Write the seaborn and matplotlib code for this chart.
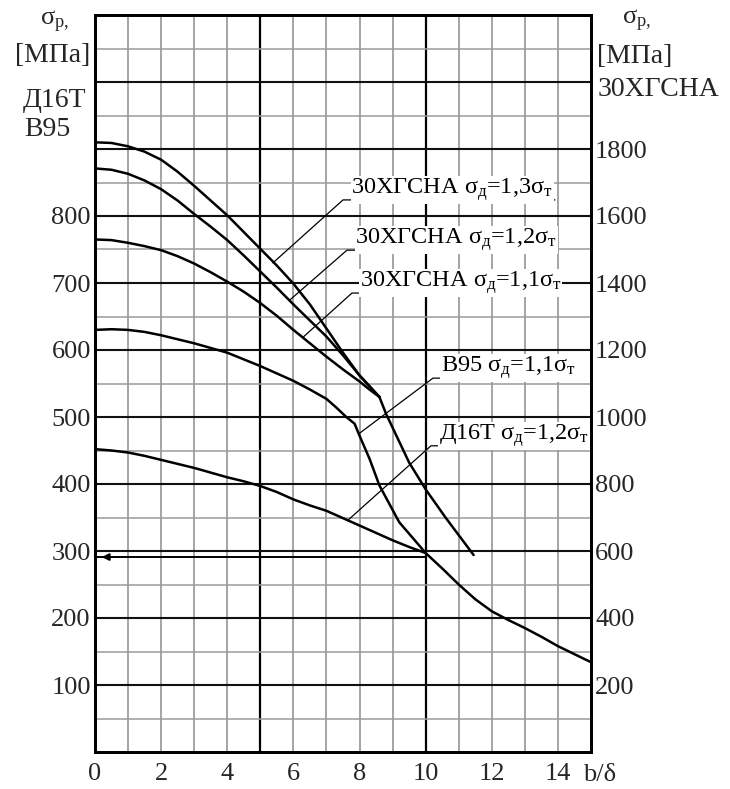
import matplotlib
matplotlib.use('Agg')
import matplotlib.pyplot as plt
import seaborn as sns

# b/delta values and sigma_p readings (MPa)
# 30ХГСНА curves are in right-axis units, Д16Т / В95 in left-axis units
x_hgsna = [0, 0.5, 1, 1.5, 2, 2.5, 3, 3.5, 4, 4.5, 5, 5.5, 6, 6.5, 7, 7.5, 8, 8.3, 8.6]
hgsna_13 = [1820, 1818, 1808, 1792, 1768, 1732, 1690, 1646, 1602, 1552, 1502, 1452, 1398,
            1336, 1264, 1192, 1124, 1092, 1060]
hgsna_12 = [1742, 1738, 1726, 1706, 1680, 1646, 1606, 1568, 1528, 1482, 1434, 1386, 1336,
            1288, 1240, 1184, 1124, 1092, 1060]
hgsna_11 = [1530, 1528, 1520, 1510, 1498, 1480, 1458, 1432, 1404, 1374, 1340, 1302, 1260,
            1220, 1180, 1142, 1106, 1082, 1060]
x_hgsna_tail = [8.6, 8.8, 9.5, 10.0, 10.6, 11.45]
hgsna_tail = [1060, 1010, 864, 784, 700, 588]

x_b95 = [0, 0.5, 1, 1.5, 2, 2.5, 3, 3.5, 4, 4.5, 5, 5.5, 6, 6.5, 7, 7.3, 7.6, 7.85,
         8.0, 8.3, 8.6, 9.2, 10]
b95 = [630, 631, 630, 627, 622, 616, 610, 603, 596, 586, 576, 565, 554, 541, 527, 514, 500, 490,
       472, 438, 398, 343, 297]

x_d16 = [0, 0.5, 1, 1.5, 2, 2.5, 3, 3.5, 4, 4.5, 5, 5.5, 6, 6.5, 7, 7.5, 8, 8.5, 9, 9.5,
         10, 10.5, 11, 11.5, 12, 12.5, 13, 13.5, 14, 14.5, 15]
d16 = [452, 450, 447, 442, 436, 430, 424, 417, 410, 404, 397, 388, 377, 368, 360, 349, 338, 327,
       316, 306, 297, 274, 250, 228, 210, 197, 185, 172, 158, 146, 134]

left_ticks = [100, 200, 300, 400, 500, 600, 700, 800]
right_ticks = [200, 400, 600, 800, 1000, 1200, 1400, 1600, 1800]
x_ticks = [0, 2, 4, 6, 8, 10, 12, 14]

# labels: text, leader start on curve (x, y left units), underline start/end x, underline y
labels = [
    ("30ХГСНА $\\sigma_{д}$=1,3$\\sigma_{т}$", (5.38, 730), 7.50, 13.91, 824),
    ("30ХГСНА $\\sigma_{д}$=1,2$\\sigma_{т}$", (5.90, 675), 7.62, 13.85, 749),
    ("30ХГСНА $\\sigma_{д}$=1,1$\\sigma_{т}$", (6.29, 619), 7.77, 13.91, 685),
    ("В95 $\\sigma_{д}$=1,1$\\sigma_{т}$", (7.98, 475), 10.22, 14.42, 558),
    ("Д16Т $\\sigma_{д}$=1,2$\\sigma_{т}$", (7.65, 346), 10.16, 14.88, 457),
]

sns.set_style('white')
plt.rcParams['font.family'] = ['Liberation Serif', 'DejaVu Serif']
plt.rcParams['mathtext.fontset'] = 'custom'
plt.rcParams['mathtext.rm'] = 'Liberation Serif'
plt.rcParams['mathtext.it'] = 'Liberation Serif'
plt.rcParams['mathtext.bf'] = 'Liberation Serif'

fig = plt.figure(figsize=(7.3, 7.89), dpi=100)
ax = fig.add_axes([95/730, 1 - 752/789, 496/730, 737/789])
ax.set_xlim(0, 15)
ax.set_ylim(0, 1100)

# grid
for v in range(1, 15):
    if v in (5, 10):
        ax.axvline(v, color='black', lw=1.6, zorder=1)
    else:
        ax.axvline(v, color='#8c8c8c', lw=1.1, zorder=1)
for h in range(50, 1100, 50):
    if h % 100 == 0:
        ax.axhline(h, color='#111111', lw=1.5, zorder=1)
    else:
        ax.axhline(h, color='#9a9a9a', lw=1.1, zorder=1)

# aluminium alloys (left axis)
sns.lineplot(x=x_b95, y=b95, ax=ax, color='black', lw=1.8, sort=False, estimator=None)
sns.lineplot(x=x_d16, y=d16, ax=ax, color='black', lw=1.8, sort=False, estimator=None)

# reference line near 300
ax.hlines(291, 0, 10, color='black', lw=1.4, zorder=2)
ax.annotate('', xy=(0.12, 291), xytext=(0.6, 291),
            arrowprops=dict(arrowstyle='-|>', color='black', lw=1.5, mutation_scale=10))

# steel (right axis)
ax2 = ax.twinx()
ax2.set_ylim(0, 2200)
for yy in (hgsna_13, hgsna_12, hgsna_11):
    sns.lineplot(x=x_hgsna, y=yy, ax=ax2, color='black', lw=1.8, sort=False, estimator=None)
sns.lineplot(x=x_hgsna_tail, y=hgsna_tail, ax=ax2, color='black', lw=1.8, sort=False, estimator=None)

# leader lines and labels
for text, (cx, cy), ux0, ux1, uy in labels:
    ax.plot([cx, ux0, ux1], [cy, uy, uy], color='black', lw=0.9, zorder=3)
    ax.text(ux0 + 0.25, uy + 9, text, fontsize=17.5, ha='left', va='baseline',
            color='black', zorder=4,
            bbox=dict(facecolor='white', edgecolor='none', pad=0.5))

ax.set_xticks(x_ticks)
ax.set_xticklabels([str(t) for t in x_ticks], fontsize=19)
ax.set_yticks(left_ticks)
ax.set_yticklabels([str(t) for t in left_ticks], fontsize=19)
ax2.set_yticks(right_ticks)
ax2.set_yticklabels([str(t) for t in right_ticks], fontsize=19)
ax.tick_params(axis='x', length=0, pad=8)
ax.tick_params(axis='y', length=0, pad=3)
ax2.tick_params(axis='y', length=0, pad=3)
ax.set_xlabel('')
ax.set_ylabel('')
ax2.set_ylabel('')
for a in (ax, ax2):
    for s in a.spines.values():
        s.set_color('black')
        s.set_linewidth(2)

ax.text(1.018, -0.031, 'b/δ', transform=ax.transAxes, fontsize=19, ha='center', va='center')

# axis captions
fig.text(0.075, 0.972, '$\\sigma_{р,}$', fontsize=19, ha='center', va='center')
fig.text(0.020, 0.930, '[МПа]', fontsize=20, ha='left', va='center')
fig.text(0.031, 0.872, 'Д16Т', fontsize=20, ha='left', va='center')
fig.text(0.033, 0.836, 'В95', fontsize=20, ha='left', va='center')
fig.text(0.872, 0.974, '$\\sigma_{р,}$', fontsize=19, ha='center', va='center')
fig.text(0.818, 0.929, '[МПа]', fontsize=20, ha='left', va='center')
fig.text(0.818, 0.886, '30ХГСНА', fontsize=20, ha='left', va='center')

plt.savefig('out.png', dpi=100)
